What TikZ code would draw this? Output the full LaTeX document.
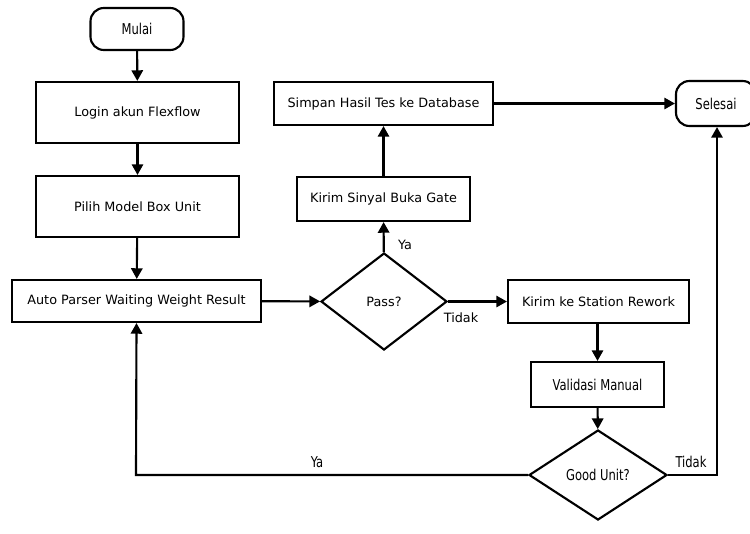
\documentclass[tikz,border=0pt]{standalone}
\usepackage{fontspec}
\setmainfont{DejaVu Sans}
\newfontfamily\narrowfont[FakeStretch=0.86]{DejaVu Sans Condensed}
\usetikzlibrary{arrows.meta,shapes.geometric}
\begin{document}
\begin{tikzpicture}[x=0.75pt,y=-0.75pt,
  font=\fontsize{9.6}{11}\selectfont,
  line width=1.6pt,
  box/.style={draw, rectangle, inner sep=0pt, line width=1.6pt},
  term/.style={draw, rectangle, rounded corners=10pt, inner sep=0pt, line width=1.6pt},
  decision/.style={draw, diamond, inner sep=0pt, line width=1.6pt},
  tall/.style={font=\narrowfont\fontsize{11.2}{13}\selectfont},
  flow/.style={line width=1.6pt, -{Triangle[length=8pt,width=8.5pt]}},
  lbl/.style={font=\fontsize{9.6}{11}\selectfont, inner sep=1pt}]
\useasboundingbox (0,0) rectangle (750,533);

% process boxes
\node[term, tall, minimum width=93*0.75pt, minimum height=42*0.75pt] (mulai) at (137,29) {Mulai};
\node[box, minimum width=203*0.75pt, minimum height=61*0.75pt] (login) at (137.5,112.5) {Login akun Flexflow};
\node[box, minimum width=203*0.75pt, minimum height=61*0.75pt] (pilih) at (137.5,206.5) {Pilih Model Box Unit};
\node[box, minimum width=249*0.75pt, minimum height=42*0.75pt] (parser) at (136.5,301) {Auto Parser Waiting Weight Result};
\node[decision, minimum width=126*0.75pt, minimum height=97*0.75pt, aspect=1.3] (pass) at (384,301.5) {Pass?};
\node[box, minimum width=181*0.75pt, minimum height=43*0.75pt] (rework) at (598.5,301.5) {Kirim ke Station Rework};
\node[box, tall, minimum width=133*0.75pt, minimum height=45*0.75pt] (validasi) at (597.5,384.5) {Validasi Manual};
\node[decision, tall, minimum width=138*0.75pt, minimum height=90*0.75pt, aspect=1.5] (good) at (598,475) {Good Unit?};
\node[box, minimum width=173*0.75pt, minimum height=44*0.75pt] (sinyal) at (383.5,199) {Kirim Sinyal Buka Gate};
\node[box, minimum width=219*0.75pt, minimum height=43*0.75pt] (simpan) at (383.5,103.5) {Simpan Hasil Tes ke Database};
\node[term, tall, minimum width=80*0.75pt, minimum height=45*0.75pt] (selesai) at (716,103.5) {Selesai};

% turning points of the loops
\coordinate (yaturn) at (136,475);
\coordinate (tidakturn) at (717,475);

% connectors
\draw[flow] (mulai) -- (login);
\draw[flow] (login) -- (pilih);
\draw[flow] (pilih) -- (parser);
\draw[flow] (parser) -- (pass);
\draw[flow] (pass) -- (sinyal);
\node[lbl] (ya1) at (405,245) {Ya};
\draw[flow] (sinyal) -- (simpan);
\draw[flow] (simpan) -- (selesai);
\draw[flow] (pass.east) -- (rework.west);
\node[lbl] (tidak1) at (461,318) {Tidak};
\draw[flow] (rework.south -| validasi) -- (validasi);
\draw[flow] (validasi) -- (good);
\draw[flow] (good.west) -- (yaturn) -- (parser.south);
\node[lbl, tall] (ya2) at (317,462) {Ya};
\draw[flow] (good.east) -- (tidakturn) -- (tidakturn |- selesai.south);
\node[lbl, tall] (tidak2) at (691,462) {Tidak};
\end{tikzpicture}
\end{document}
